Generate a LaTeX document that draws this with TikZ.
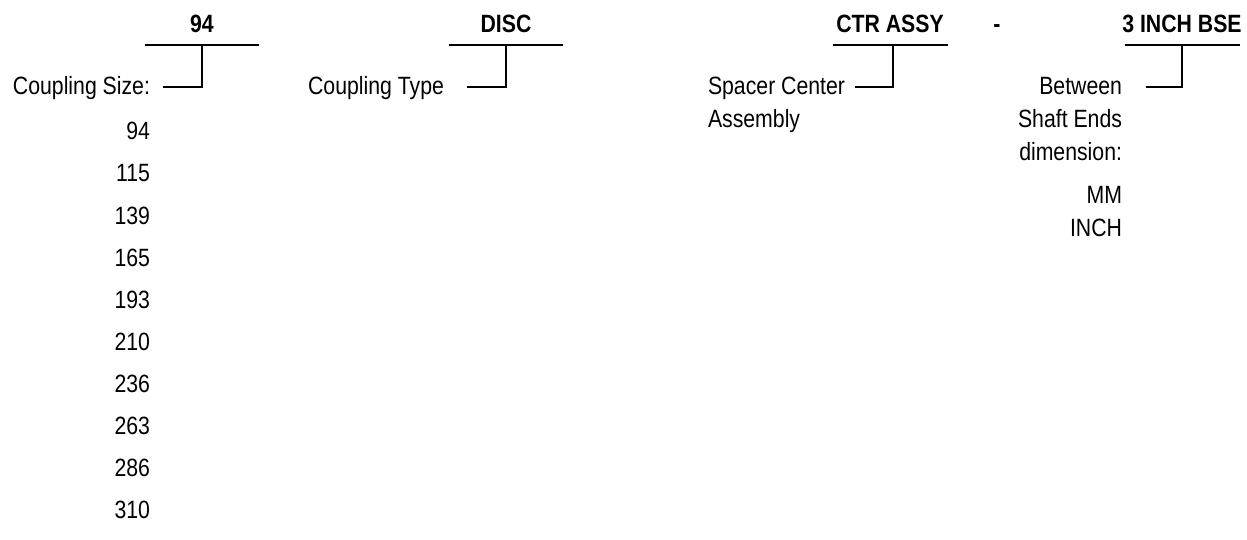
\documentclass[tikz,border=0pt]{standalone}
\usepackage{fontspec}
\setmainfont{Liberation Sans}[FakeStretch=0.85]
\usetikzlibrary{positioning}

\begin{document}
\begin{tikzpicture}[x=1pt, y=-1pt, line width=2.4pt,
    every node/.style={inner sep=0pt, outer sep=0pt, font=\fontsize{25}{33}\selectfont},
    head/.style={anchor=base, font=\fontsize{25}{33}\selectfont\bfseries},
    lbl/.style={anchor=base east},
    num/.style={anchor=base east}]
    \useasboundingbox (0,0) rectangle (1247,540);

    % code headers
    \node[head] (hsize) at (202,33)  {94};
    \node[head] (htype) at (506,33)  {DISC};
    \node[head] (hctr)  at (890,33)  {CTR ASSY};
    \node[head] (hdash) at (997,33)  {-};
    \node[head] (hbse)  at (1182,33) {3 INCH BSE};

    % labels
    \node[lbl] (size) at (150,95) {Coupling Size:};
    \node[lbl] (type) at (444,95) {Coupling Type};
    \node[anchor=base west] (ctr) at (708,95) {Spacer Center};
    \node[anchor=base west] (ctr2) at (708,128) {Assembly};
    \node[anchor=north east, align=right] (bse) at (1122,77) {Between\\Shaft Ends\\dimension:};
    \node[anchor=north east, align=right] (unit) at (1122,186) {MM\\INCH};

    % sizes
    \foreach \n [count=\i] in {94,115,139,165,193,210,236,263,286,310}
        \node[num] (n\n) at (150,{140+42*(\i-1)}) {\n};

    % bars and leaders
    \coordinate (sizeL) at (145,45);  \coordinate (sizeR) at (259,45);  \coordinate (sizeF) at (163,87);
    \coordinate (typeL) at (449,45);  \coordinate (typeR) at (563,45);  \coordinate (typeF) at (467,87);
    \coordinate (ctrL)  at (833,45);  \coordinate (ctrR)  at (948,45);  \coordinate (ctrF)  at (855,87);
    \coordinate (bseL)  at (1125,45); \coordinate (bseR)  at (1240,45); \coordinate (bseF)  at (1146,87);
    \coordinate (ctrV)  at (893,45);

    \draw (sizeL) -- (sizeR);
    \draw (hsize |- sizeL) |- (sizeF);
    \draw (typeL) -- (typeR);
    \draw (htype |- typeL) |- (typeF);
    \draw (ctrL) -- (ctrR);
    \draw (ctrV) |- (ctrF);
    \draw (bseL) -- (bseR);
    \draw (hbse |- bseL) |- (bseF);
\end{tikzpicture}
\end{document}
